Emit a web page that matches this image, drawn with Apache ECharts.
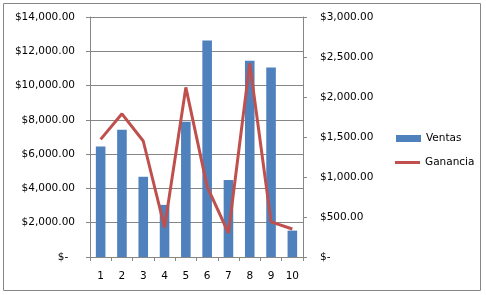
<!DOCTYPE html>
<html><head><meta charset="utf-8">
<script src="https://cdn.jsdelivr.net/npm/echarts@6/dist/echarts.min.js"></script>
<style>html,body{margin:0;padding:0;background:#fff}#c{width:486px;height:295px}</style>
</head><body><div id="c"></div>
<script>
const categories = ['1','2','3','4','5','6','7','8','9','10'];
const ventas = [6450, 7420, 4680, 3040, 7890, 12630, 4490, 11450, 11050, 1540];
const ganancia = [1470, 1790, 1450, 370, 2120, 880, 300, 2420, 440, 350];
const seriesNames = ['Ventas', 'Ganancia'];

function money(v) {
  if (v === 0) return '$-  ';
  return '$' + v.toLocaleString('en-US', {minimumFractionDigits: 2, maximumFractionDigits: 2});
}

const font = 'DejaVu Sans';
const chart = echarts.init(document.getElementById('c'), null, {renderer: 'canvas'});
chart.setOption({
  animation: false,
  textStyle: {fontFamily: font},
  grid: {left: 90, right: 183, top: 17, bottom: 38},
  graphic: [{type: 'rect', shape: {x: 3.5, y: 3.5, width: 477, height: 287}, style: {fill: 'none', stroke: '#868686', lineWidth: 1}}],
  legend: [
    {data: [{name: seriesNames[0], icon: 'rect'}], left: 391, top: 128, orient: 'vertical', itemWidth: 25, itemHeight: 7, itemGap: 0,
     textStyle: {fontFamily: font, fontSize: 10.5, color: '#000'}},
    {data: [{name: seriesNames[1], icon: 'rect'}], left: 390, top: 152, orient: 'vertical', itemWidth: 25, itemHeight: 3, itemGap: 0,
     textStyle: {fontFamily: font, fontSize: 10.5, color: '#000'}}
  ],
  xAxis: {
    type: 'category', data: categories,
    axisLine: {lineStyle: {color: '#868686'}},
    axisTick: {show: true, length: 4, inside: false, lineStyle: {color: '#868686'}},
    axisLabel: {color: '#000', fontFamily: font, fontSize: 10.5, margin: 14}
  },
  yAxis: [
    {type: 'value', min: 0, max: 14000, interval: 2000,
     axisLine: {show: true, lineStyle: {color: '#868686'}},
     axisTick: {show: true, length: 4, lineStyle: {color: '#868686'}},
     splitLine: {lineStyle: {color: '#868686'}},
     axisLabel: {formatter: money, color: '#000', fontFamily: font, fontSize: 10.5, margin: 15}},
    {type: 'value', min: 0, max: 3000, interval: 500, position: 'right',
     axisLine: {show: true, lineStyle: {color: '#868686'}},
     axisTick: {show: true, length: 4, lineStyle: {color: '#868686'}},
     splitLine: {show: false},
     axisLabel: {formatter: money, color: '#000', fontFamily: font, fontSize: 10.5, margin: 17}}
  ],
  series: [
    {name: seriesNames[0], type: 'bar', data: ventas, yAxisIndex: 0, barWidth: '45%', itemStyle: {color: '#4F81BD'}},
    {name: seriesNames[1], type: 'line', data: ganancia, yAxisIndex: 1, symbol: 'none', lineStyle: {color: '#C0504D', width: 3}, itemStyle: {color: '#C0504D'}}
  ]
});
</script></body></html>
